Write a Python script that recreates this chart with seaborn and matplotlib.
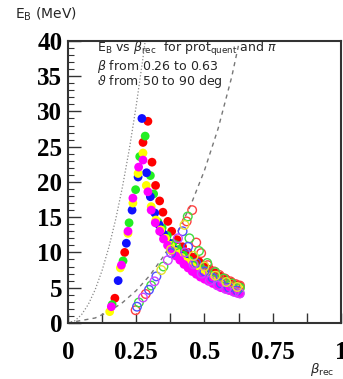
import matplotlib
matplotlib.use("Agg")
import matplotlib.pyplot as plt
import seaborn as sns
import pandas as pd
from matplotlib.ticker import MultipleLocator, FixedLocator, FixedFormatter

# ---------------- data ----------------
# kinematic reference curves
proton_beta = [0.0, 0.025, 0.05, 0.075, 0.1, 0.125, 0.15, 0.175, 0.2, 0.225, 0.25, 0.275, 0.29]
proton_E = [0.0, 0.29, 1.17, 2.65, 4.73, 7.42, 10.73, 14.70, 19.34, 24.68, 30.76, 37.62, 42.1]
pion_beta = [0.0, 0.1, 0.15, 0.2, 0.25, 0.3, 0.35, 0.4, 0.45, 0.5, 0.55, 0.6, 0.64]
pion_E = [0.0, 0.70, 1.60, 2.88, 4.58, 6.74, 9.43, 12.72, 16.72, 21.62, 27.55, 34.90, 42.1]

# filled circles (one series per colour)
red_beta = [0.172, 0.208, 0.275, 0.293, 0.308, 0.321, 0.336, 0.348, 0.366, 0.38, 0.40, 0.42,
            0.44, 0.46, 0.48, 0.50, 0.52, 0.54, 0.56, 0.58, 0.60, 0.62, 0.63]
red_E = [3.5, 10.0, 25.6, 28.6, 22.8, 19.5, 17.3, 15.7, 14.4, 13.0, 11.8, 10.8,
         10.0, 9.3, 8.7, 8.1, 7.6, 7.1, 6.6, 6.2, 5.8, 5.4, 5.2]
green_beta = [0.162, 0.202, 0.224, 0.248, 0.263, 0.283, 0.302, 0.314, 0.33, 0.345, 0.364, 0.384,
              0.404, 0.424, 0.444, 0.464, 0.484, 0.504, 0.524, 0.544, 0.564, 0.584, 0.604, 0.624, 0.63]
green_E = [2.6, 8.8, 14.2, 18.9, 23.6, 26.5, 20.9, 18.3, 14.3, 13.5, 12.4, 11.3,
           10.4, 9.6, 8.9, 8.3, 7.7, 7.2, 6.8, 6.4, 6.0, 5.6, 5.3, 5.0, 4.9]
blue_beta = [0.184, 0.214, 0.235, 0.257, 0.271, 0.288, 0.302, 0.318, 0.334, 0.35, 0.368, 0.388,
             0.408, 0.428, 0.448, 0.468, 0.488, 0.508, 0.528, 0.548, 0.568, 0.588, 0.608, 0.628]
blue_E = [6.0, 11.3, 16.0, 20.7, 29.0, 21.3, 17.9, 15.6, 13.9, 12.6, 11.4, 10.4,
          9.6, 8.9, 8.2, 7.6, 7.1, 6.7, 6.3, 5.9, 5.5, 5.2, 4.9, 4.6]
yellow_beta = [0.153, 0.192, 0.220, 0.238, 0.257, 0.275, 0.287, 0.305, 0.322, 0.34, 0.358, 0.376,
               0.396, 0.416, 0.436, 0.456, 0.476, 0.496, 0.516, 0.536, 0.556, 0.576, 0.596, 0.616, 0.63]
yellow_E = [1.6, 7.8, 12.7, 17.0, 21.2, 24.1, 19.5, 16.5, 14.6, 13.2, 12.0, 11.0,
            10.1, 9.3, 8.6, 8.0, 7.5, 7.0, 6.6, 6.2, 5.8, 5.5, 5.2, 4.9, 4.8]
magenta_beta = [0.159, 0.196, 0.220, 0.238, 0.259, 0.275, 0.293, 0.305, 0.32, 0.336, 0.35, 0.365,
                0.38, 0.395, 0.41, 0.425, 0.44, 0.455, 0.47, 0.485, 0.50, 0.515, 0.53, 0.545,
                0.56, 0.575, 0.59, 0.605, 0.62, 0.63]
magenta_E = [2.3, 8.2, 13.0, 17.7, 22.1, 23.1, 18.6, 16.0, 14.2, 13.0, 11.9, 11.0,
             10.2, 9.5, 8.9, 8.3, 7.8, 7.3, 6.9, 6.5, 6.2, 5.9, 5.6, 5.3,
             5.0, 4.8, 4.6, 4.4, 4.2, 4.1]

# open circles (one series per colour)
ored_beta = [0.248, 0.285, 0.435, 0.455, 0.47, 0.488, 0.512, 0.536, 0.555, 0.575, 0.595, 0.615, 0.63]
ored_E = [1.8, 4.1, 14.4, 16.0, 11.4, 9.9, 8.2, 7.3, 6.8, 6.3, 5.9, 5.5, 5.3]
ogreen_beta = [0.26, 0.305, 0.35, 0.395, 0.439, 0.445, 0.48, 0.51, 0.54, 0.57, 0.60, 0.63]
ogreen_E = [2.9, 5.3, 8.0, 11.0, 15.1, 12.0, 10.2, 8.5, 7.2, 6.3, 5.6, 5.0]
oblue_beta = [0.253, 0.297, 0.324, 0.378, 0.42, 0.44, 0.47, 0.50, 0.53, 0.56, 0.59, 0.62]
oblue_E = [2.3, 4.7, 6.6, 9.9, 13.0, 10.8, 8.5, 7.3, 6.4, 5.6, 5.0, 4.6]
omagenta_beta = [0.275, 0.317, 0.366, 0.403, 0.43, 0.46, 0.49, 0.52, 0.55, 0.58, 0.61, 0.63]
omagenta_E = [3.6, 5.9, 8.9, 12.0, 10.0, 8.3, 7.0, 6.0, 5.3, 4.8, 4.4, 4.2]
oyellow_beta = [0.342, 0.378, 0.427, 0.46, 0.50, 0.54, 0.58, 0.62]
oyellow_E = [7.5, 10.4, 13.9, 9.5, 8.0, 6.7, 5.8, 5.1]

x_tick_labels = ["0", "0.25", "0.5", "0.75", "1"]
y_tick_labels = ["0", "5", "10", "15", "20", "25", "30", "35", "40"]

# ---------------- tables ----------------
filled = pd.concat([
    pd.DataFrame({"beta": red_beta, "E": red_E, "c": "red"}),
    pd.DataFrame({"beta": green_beta, "E": green_E, "c": "green"}),
    pd.DataFrame({"beta": blue_beta, "E": blue_E, "c": "blue"}),
    pd.DataFrame({"beta": yellow_beta, "E": yellow_E, "c": "yellow"}),
    pd.DataFrame({"beta": magenta_beta, "E": magenta_E, "c": "magenta"}),
], ignore_index=True)
opened = pd.concat([
    pd.DataFrame({"beta": ored_beta, "E": ored_E, "c": "red"}),
    pd.DataFrame({"beta": ogreen_beta, "E": ogreen_E, "c": "green"}),
    pd.DataFrame({"beta": oblue_beta, "E": oblue_E, "c": "blue"}),
    pd.DataFrame({"beta": omagenta_beta, "E": omagenta_E, "c": "magenta"}),
    pd.DataFrame({"beta": oyellow_beta, "E": oyellow_E, "c": "yellow"}),
], ignore_index=True)
colmap = {"red": "#ff0000", "green": "#22ee22", "blue": "#1010ff",
          "yellow": "#ffff00", "magenta": "#ff00ff"}
ocolmap = {"red": "#ff4040", "green": "#40dd40", "blue": "#5050ff",
           "yellow": "#e8e030", "magenta": "#cc44ff"}

# ---------------- figure ----------------
sns.set_theme(style="ticks")
plt.rcParams["font.family"] = ["DejaVu Sans"]
plt.rcParams["mathtext.fontset"] = "dejavusans"

fig = plt.figure(figsize=(3.43, 3.79), dpi=100)
ax = fig.add_axes([0.198, 0.148, 0.796, 0.744])

sns.lineplot(x=proton_beta, y=proton_E, ax=ax, sort=False, color="#888888",
             lw=0.9, linestyle=(0, (1, 1.6)), zorder=1)
sns.lineplot(x=pion_beta, y=pion_E, ax=ax, sort=False, color="#777777",
             lw=1.0, linestyle=(0, (3, 3)), zorder=1)

for c in ["red", "green", "blue", "yellow", "magenta"]:
    d = filled[filled["c"] == c]
    sns.scatterplot(data=d, x="beta", y="E", ax=ax, color=colmap[c], s=40,
                    edgecolor="none", linewidth=0, legend=False, zorder=2)
for c in ["red", "green", "blue", "magenta", "yellow"]:
    d = opened[opened["c"] == c]
    sns.scatterplot(data=d, x="beta", y="E", ax=ax, s=38, facecolor="none",
                    edgecolor=ocolmap[c], linewidth=1.0, legend=False, zorder=3)

ax.set_xlim(0, 1.0)
ax.set_ylim(0, 40)
ax.set_xlabel("")
ax.set_ylabel("")

ax.xaxis.set_major_locator(FixedLocator([0, 0.25, 0.5, 0.75, 1.0]))
ax.xaxis.set_major_formatter(FixedFormatter(x_tick_labels))
ax.xaxis.set_minor_locator(MultipleLocator(0.125))
ax.yaxis.set_major_locator(FixedLocator(list(range(0, 41, 5))))
ax.yaxis.set_major_formatter(FixedFormatter(y_tick_labels))
ax.yaxis.set_minor_locator(MultipleLocator(1))

ax.tick_params(axis="x", which="both", direction="in", length=7, width=1.0,
               color="#333333", pad=13)
ax.tick_params(axis="y", which="major", direction="in", length=9, width=1.0,
               color="#333333", pad=4)
ax.tick_params(axis="y", which="minor", direction="in", length=4.5, width=0.8,
               color="#333333")
for lab in ax.get_xticklabels() + ax.get_yticklabels():
    lab.set_fontfamily("Liberation Serif")
    lab.set_fontweight("bold")
    lab.set_fontsize(18)
    lab.set_color("black")

for sp in ax.spines.values():
    sp.set_visible(True)
    sp.set_color("#333333")
    sp.set_linewidth(1.5)

fig.text(0.044, 0.963, r"E$_{\mathregular{B}}$ (MeV)", fontsize=10, va="center", ha="left")
fig.text(0.905, 0.024, r"$\beta_{\mathregular{rec}}$", fontsize=9.5, va="center", ha="left")

tx = 0.106
ax.text(tx, 0.970, r"E$_{\mathregular{B}}$ vs $\beta_{\mathregular{rec}}$  for prot$_{\mathregular{quent}}$ and $\pi$",
        transform=ax.transAxes, fontsize=9, va="center", ha="left")
ax.text(tx, 0.910, r"$\beta$ from 0.26 to 0.63", transform=ax.transAxes,
        fontsize=9, va="center", ha="left")
ax.text(tx, 0.855, r"$\vartheta$ from 50 to 90 deg", transform=ax.transAxes,
        fontsize=9, va="center", ha="left")

fig.savefig("out.png", dpi=100)
